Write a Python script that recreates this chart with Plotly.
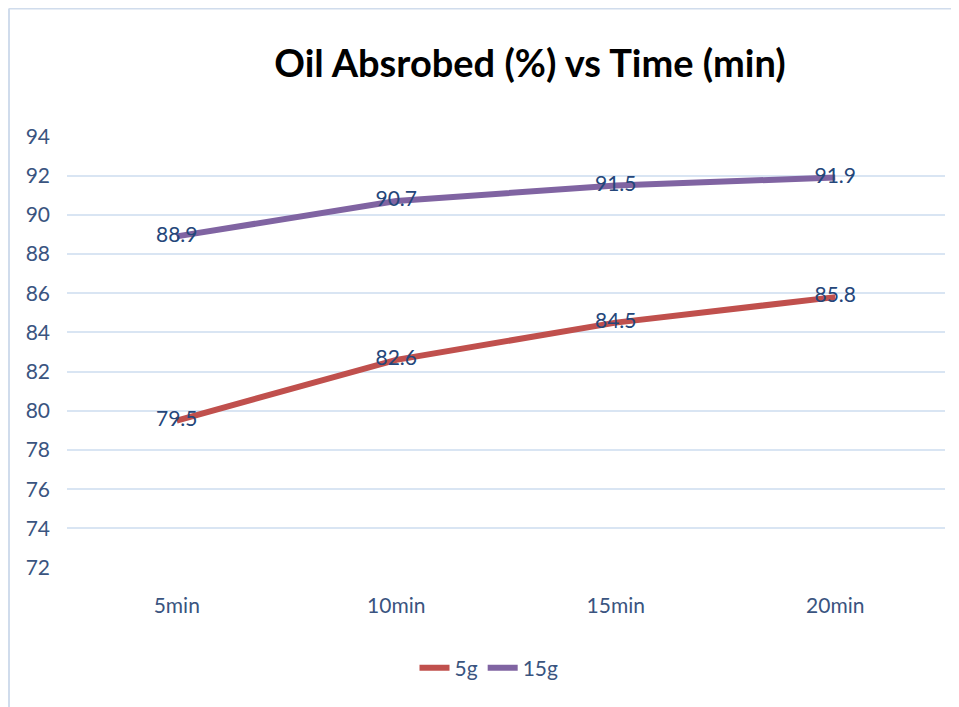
import plotly.graph_objects as go

categories = ["5min", "10min", "15min", "20min"]
series_5g = [79.5, 82.6, 84.5, 85.8]
series_15g = [88.9, 90.7, 91.5, 91.9]
y_ticks = [72, 74, 76, 78, 80, 82, 84, 86, 88, 90, 92, 94]

FONT = "Lato, 'Open Sans', sans-serif"
TXT = "#3A5480"
LBL = "#24467A"

# The page body has an 8px default margin; the figure is sized to fit the window.
W, H = 951, 699
L, R, T, B = 59, 14, 128, 139
pw, ph = W - L - R, H - T - B


def px(x):
    return (x - L) / pw


def py(y):
    return (H - B - y) / ph


fig = go.Figure()
fig.add_trace(go.Scatter(
    x=categories, y=series_5g, name="5g", mode="lines+text",
    line=dict(color="#C0504D", width=6),
    text=[str(v) for v in series_5g], textposition="middle center",
    textfont=dict(family=FONT, size=21, color=LBL),
))
fig.add_trace(go.Scatter(
    x=categories, y=series_15g, name="15g", mode="lines+text",
    line=dict(color="#8064A2", width=6),
    text=[str(v) for v in series_15g], textposition="middle center",
    textfont=dict(family=FONT, size=21, color=LBL),
))

fig.update_layout(
    width=W, height=H,
    margin=dict(l=L, r=R, t=T, b=B),
    paper_bgcolor="white", plot_bgcolor="white",
    title=dict(text="<b>Oil Absrobed (%) vs Time (min)</b>",
               x=522 / W, xanchor="center", y=1 - 56 / H, yanchor="middle",
               font=dict(family=FONT, size=38, color="black")),
    xaxis=dict(type="category", showgrid=False, showline=False, zeroline=False,
               ticks="outside", ticklen=19, tickcolor="rgba(0,0,0,0)",
               tickfont=dict(family=FONT, size=21, color=TXT),
               range=[-0.5, 3.5]),
    yaxis=dict(range=[71.98, 94.02], tickvals=y_ticks, showgrid=True,
               gridcolor="#D9E5F3", gridwidth=1.5, zeroline=False, showline=False,
               ticklabelstandoff=16,
               tickfont=dict(family=FONT, size=21, color=TXT)),
    legend=dict(orientation="h", x=px(481), xanchor="center",
                y=py(660), yanchor="middle",
                font=dict(family=FONT, size=21, color=TXT)),
    showlegend=True,
    shapes=[
        dict(type="line", xref="paper", yref="paper", x0=px(1), x1=px(W), y0=py(0.5), y1=py(0.5),
             line=dict(color="#D0DCEC", width=2)),
        dict(type="line", xref="paper", yref="paper", x0=px(1), x1=px(1), y0=py(0.5), y1=py(H),
             line=dict(color="#D0DCEC", width=2)),
    ],
)

fig.write_html("out.html")
